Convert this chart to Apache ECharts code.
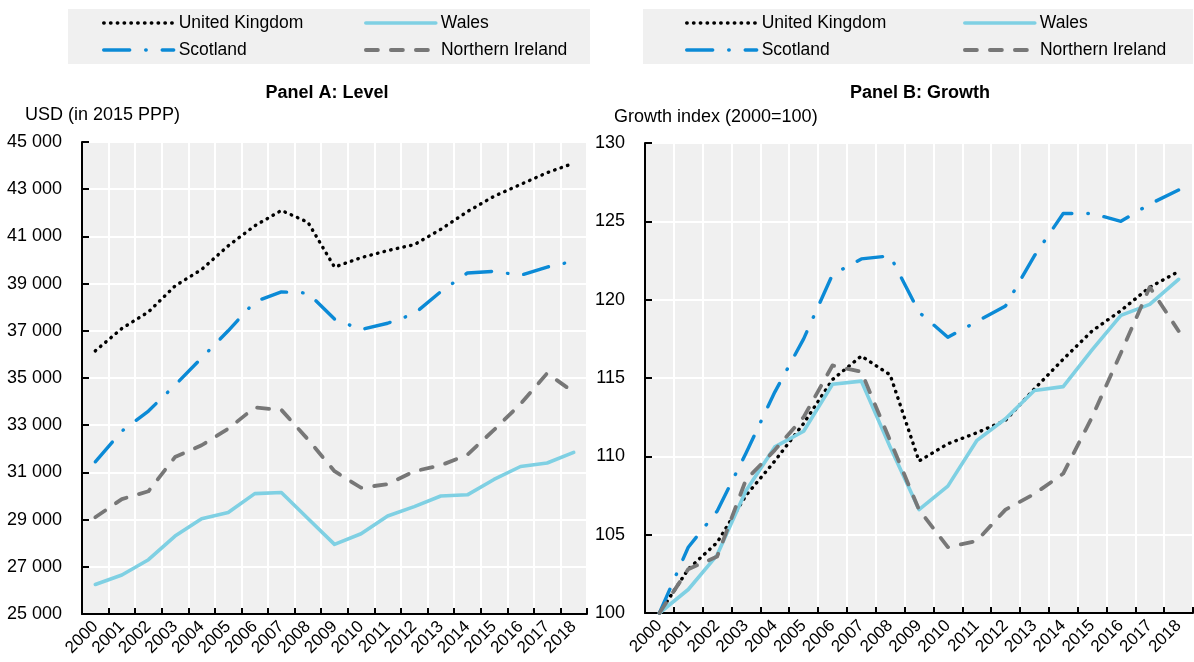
<!DOCTYPE html>
<html>
<head>
<meta charset="utf-8">
<script src="https://cdn.jsdelivr.net/npm/echarts@6/dist/echarts.min.js"></script>
<style>
html,body{margin:0;padding:0;background:#fff;}
#chart{width:1194px;height:662px;}
</style>
</head>
<body>
<div id="chart"></div>
<script>
const years = ['2000','2001','2002','2003','2004','2005','2006','2007','2008','2009','2010','2011','2012','2013','2014','2015','2016','2017','2018'];

const levelUK       = [36150, 37100, 37800, 38900, 39600, 40600, 41450, 42100, 41600, 39700, 40100, 40400, 40650, 41300, 42050, 42700, 43200, 43700, 44100];
const levelScotland = [31450, 32750, 33600, 34700, 35850, 37000, 38230, 38650, 38600, 37500, 37050, 37320, 37720, 38660, 39450, 39520, 39350, 39700, 39950];
const levelWales    = [26250, 26650, 27300, 28300, 29040, 29300, 30100, 30150, 29050, 27950, 28400, 29150, 29550, 30000, 30050, 30700, 31250, 31400, 31850];
const levelNI       = [29100, 29870, 30200, 31650, 32150, 32850, 33750, 33650, 32400, 31050, 30350, 30500, 31050, 31300, 31750, 32800, 33900, 35200, 34400];

const growthUK       = [100, 102.8, 104.5, 107.5, 109.7, 112.1, 114.9, 116.4, 115.2, 109.7, 110.8, 111.5, 112.3, 114.3, 116.2, 118.0, 119.3, 120.8, 121.8];
const growthScotland = [100, 104.2, 106.5, 110.2, 114.1, 117.5, 121.6, 122.6, 122.8, 119.2, 117.6, 118.6, 119.6, 122.8, 125.5, 125.5, 125.0, 126.1, 127.0];
const growthWales    = [100, 101.5, 103.7, 107.8, 110.6, 111.6, 114.6, 114.8, 110.6, 106.6, 108.1, 111.0, 112.4, 114.2, 114.45, 116.8, 119.0, 119.7, 121.3];
const growthNI       = [100, 102.8, 103.6, 108.5, 110.4, 112.5, 115.8, 115.4, 111.0, 106.6, 104.2, 104.6, 106.6, 107.6, 108.9, 112.5, 116.6, 120.8, 118.0];

const seriesNames = ['United Kingdom', 'Wales', 'Scotland', 'Northern Ireland'];
const panelTitles = ['Panel A: Level', 'Panel B: Growth'];
const axisNames = ['USD (in 2015 PPP)', 'Growth index (2000=100)'];

const FONT = 'Liberation Sans, Arial, sans-serif';
const styles = {
  'United Kingdom':   {color:'#000000', width:3.4, type:[0.5, 6.3], cap:'round'},
  'Wales':            {color:'#7fd0e3', width:3.6, type:'solid', cap:'round'},
  'Scotland':         {color:'#0b8ad6', width:3.4, type:[26, 16, 0.5, 16], cap:'round'},
  'Northern Ireland': {color:'#777777', width:3.8, type:[12, 13], cap:'round'}
};

function fmt(v){ return String(v).replace(/\B(?=(\d{3})+(?!\d))/g, ' '); }

function mkX(gi){
  return {
    type:'category', gridIndex:gi, data:years, boundaryGap:true,
    axisLine:{show:true, lineStyle:{color:'#000', width:2}},
    axisTick:{show:true, inside:true, length:6, lineStyle:{color:'#000', width:2}},
    splitLine:{show:true, lineStyle:{color:'#ffffff', width:2}},
    axisLabel:{rotate:45, margin:10, color:'#000', fontSize:17, fontFamily:FONT, interval:0}
  };
}
function mkY(gi, min, max, interval){
  return {
    type:'value', gridIndex:gi, min:min, max:max, interval:interval,
    axisLine:{show:true, lineStyle:{color:'#000', width:2}},
    axisTick:{show:true, inside:true, length:7, lineStyle:{color:'#000', width:2}},
    splitLine:{show:true, lineStyle:{color:'#ffffff', width:2}},
    axisLabel:{margin:20, color:'#000', fontSize:18, fontFamily:FONT, formatter:fmt}
  };
}
function mkS(name, gi, data){
  const s = styles[name];
  return {
    name:name, type:'line', xAxisIndex:gi, yAxisIndex:gi, data:data,
    symbol:'none', showSymbol:false, smooth:false,
    lineStyle:{color:s.color, width:s.width, type:s.type, cap:s.cap, join:'round'},
    itemStyle:{color:s.color},
    emphasis:{disabled:true}
  };
}
function mkL(name, left, top){
  const s = styles[name];
  return {
    data:[name], left:left, top:top, padding:0, itemWidth:70, itemHeight:14,
    selectedMode:false,
    textStyle:{fontSize:17.5, fontFamily:FONT, color:'#000'},
    itemStyle:{color:'rgba(0,0,0,0)', borderWidth:0, opacity:0},
    lineStyle:{color:s.color, width:s.width, type:s.type, cap:s.cap, opacity:1}
  };
}

const option = {
  animation:false,
  backgroundColor:'#ffffff',
  graphic:[
    {type:'rect', left:68, top:9, shape:{width:522, height:55}, style:{fill:'#f0f0f0'}, z:-1},
    {type:'rect', left:643, top:9, shape:{width:550, height:55}, style:{fill:'#f0f0f0'}, z:-1}
  ],
  title:[
    {text:panelTitles[0], left:327, top:84, textAlign:'center', padding:0, textStyle:{fontSize:18, fontWeight:'bold', fontFamily:FONT, color:'#000'}},
    {text:panelTitles[1], left:920, top:84, textAlign:'center', padding:0, textStyle:{fontSize:18, fontWeight:'bold', fontFamily:FONT, color:'#000'}},
    {text:axisNames[0], left:25, top:106, padding:0, textStyle:{fontSize:18, fontWeight:'normal', fontFamily:FONT, color:'#000'}},
    {text:axisNames[1], left:614, top:108, padding:0, textStyle:{fontSize:18, fontWeight:'normal', fontFamily:FONT, color:'#000'}}
  ],
  legend:[
    mkL('United Kingdom', 102, 14), mkL('Wales', 364, 14),
    mkL('Scotland', 102, 41), mkL('Northern Ireland', 364, 41),
    mkL('United Kingdom', 685, 14), mkL('Wales', 963, 14),
    mkL('Scotland', 685, 41), mkL('Northern Ireland', 963, 41)
  ],
  grid:[
    {left:82, right:607, top:142, bottom:48, show:true, backgroundColor:'#f0f0f0', borderWidth:0, containLabel:false},
    {left:645, right:1, top:143, bottom:49, show:true, backgroundColor:'#f0f0f0', borderWidth:0, containLabel:false}
  ],
  xAxis:[mkX(0), mkX(1)],
  yAxis:[mkY(0, 25000, 45000, 2000), mkY(1, 100, 130, 5)],
  series:[
    mkS('United Kingdom', 0, levelUK),
    mkS('Wales', 0, levelWales),
    mkS('Scotland', 0, levelScotland),
    mkS('Northern Ireland', 0, levelNI),
    mkS('United Kingdom', 1, growthUK),
    mkS('Wales', 1, growthWales),
    mkS('Scotland', 1, growthScotland),
    mkS('Northern Ireland', 1, growthNI)
  ]
};

const chart = echarts.init(document.getElementById('chart'), null, {renderer:'canvas'});
chart.setOption(option);
</script>
</body>
</html>
